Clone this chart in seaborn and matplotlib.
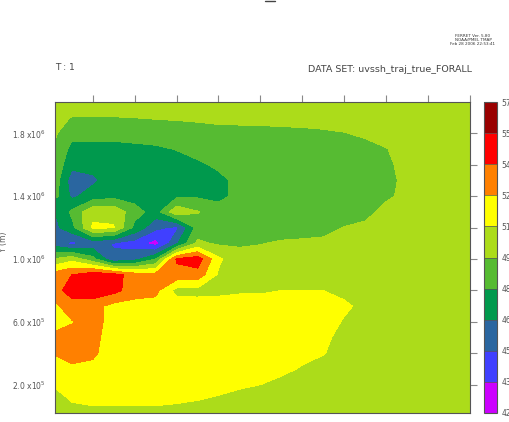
import numpy as np
import matplotlib
matplotlib.use("Agg")
import matplotlib.pyplot as plt
from matplotlib.lines import Line2D
import seaborn as sns

# grid of the field (units of 1e5 m)
x_1e5m = [0, 1, 2, 3, 4, 5, 6, 7, 8, 9, 10, 11, 12, 13, 14, 15, 16, 17, 18, 19, 20]
y_1e5m = [0, 1, 2, 3, 4, 5, 6, 7, 8, 9, 10, 11, 12, 13, 14, 15, 16, 17, 18, 19, 20]

# sea surface height, rows listed from north (y=20) down to south (y=0)
ssh_rows = [
    [50.3, 50.3, 50.3, 50.3, 50.3, 50.3, 50.3, 50.3, 50.3, 50.3, 50.3, 50.3, 50.3, 50.3, 50.3, 50.4, 50.4, 50.4, 50.4, 50.4, 50.4],
    [50.0, 49.45, 49.45, 49.45, 49.5, 49.6, 49.65, 49.7, 49.8, 49.85, 49.9, 49.95, 50.0, 50.05, 50.1, 50.2, 50.3, 50.4, 50.4, 50.4, 50.4],
    [50.0, 48.4, 48.4, 48.4, 48.5, 48.6, 48.8, 49.0, 49.1, 49.1, 49.1, 49.15, 49.2, 49.3, 49.45, 49.7, 50.0, 50.3, 50.4, 50.4, 50.4],
    [49.6, 47.6, 47.6, 47.6, 47.7, 47.8, 48.05, 48.4, 48.7, 48.8, 48.9, 48.9, 49.0, 49.0, 49.05, 49.1, 49.45, 50.0, 50.3, 50.4, 50.4],
    [49.6, 46.9, 47.0, 47.3, 47.3, 47.4, 47.5, 47.8, 48.2, 48.6, 48.8, 48.8, 48.8, 48.85, 48.9, 48.9, 49.2, 50.0, 50.3, 50.3, 50.3],
    [49.6, 45.7, 46.2, 47.3, 47.4, 47.4, 47.4, 47.5, 47.7, 48.3, 48.7, 48.7, 48.7, 48.75, 48.8, 48.9, 49.1, 49.85, 50.2, 50.3, 50.3],
    [49.0, 46.2, 47.2, 47.6, 47.4, 47.3, 47.7, 47.8, 47.7, 48.3, 48.6, 48.6, 48.6, 48.7, 48.8, 49.0, 49.3, 49.8, 50.1, 50.2, 50.2],
    [46.0, 48.3, 50.6, 50.6, 48.6, 47.3, 50.6, 49.6, 48.5, 48.7, 48.7, 48.6, 48.6, 48.7, 48.8, 49.1, 49.9, 50.1, 50.2, 50.2, 50.2],
    [45.8, 47.5, 51.2, 51.1, 47.6, 45.4, 44.6, 48.6, 48.8, 48.9, 48.8, 48.9, 48.9, 49.0, 49.55, 49.8, 50.1, 50.2, 50.2, 50.2, 50.2],
    [45.9, 44.6, 45.5, 44.9, 44.3, 42.8, 46.3, 49.8, 49.3, 49.4, 49.45, 49.65, 49.75, 49.85, 50.0, 50.1, 50.2, 50.2, 50.2, 50.2, 50.2],
    [49.5, 50.5, 48.5, 45.2, 46.0, 48.0, 54.2, 54.8, 51.3, 49.8, 50.0, 50.1, 50.2, 50.2, 50.2, 50.2, 50.2, 50.2, 50.2, 50.2, 50.2],
    [53.0, 54.0, 55.0, 54.6, 53.3, 53.0, 53.5, 53.4, 50.8, 50.3, 50.4, 50.5, 50.5, 50.5, 50.5, 50.4, 50.4, 50.3, 50.3, 50.3, 50.3],
    [53.0, 54.8, 55.1, 54.5, 53.2, 52.9, 50.5, 50.5, 50.6, 50.8, 50.8, 51.0, 51.0, 51.0, 50.7, 50.5, 50.4, 50.3, 50.3, 50.3, 50.3],
    [52.0, 53.2, 53.0, 52.0, 51.9, 51.9, 51.8, 51.7, 51.7, 51.7, 51.7, 51.7, 51.7, 51.6, 51.2, 50.7, 50.4, 50.3, 50.3, 50.3, 50.3],
    [52.0, 52.4, 53.0, 52.0, 51.8, 51.8, 51.8, 51.8, 51.8, 51.8, 51.7, 51.7, 51.7, 51.5, 50.9, 50.5, 50.3, 50.3, 50.3, 50.3, 50.3],
    [52.7, 53.1, 52.8, 52.0, 51.8, 51.8, 51.8, 51.8, 51.8, 51.8, 51.8, 51.8, 51.6, 51.2, 50.7, 50.4, 50.3, 50.3, 50.3, 50.3, 50.3],
    [52.5, 52.9, 52.7, 51.9, 51.7, 51.7, 51.7, 51.7, 51.7, 51.7, 51.7, 51.6, 51.3, 51.05, 50.6, 50.3, 50.3, 50.3, 50.3, 50.3, 50.3],
    [52.0, 52.3, 52.2, 51.8, 51.6, 51.6, 51.6, 51.6, 51.6, 51.6, 51.4, 51.25, 50.9, 50.6, 50.3, 50.3, 50.3, 50.3, 50.3, 50.3, 50.3],
    [51.0, 51.6, 51.6, 51.5, 51.5, 51.5, 51.5, 51.5, 51.4, 51.2, 51.0, 50.7, 50.4, 50.3, 50.3, 50.3, 50.3, 50.3, 50.3, 50.3, 50.3],
    [50.4, 51.05, 51.15, 51.15, 51.15, 51.15, 51.1, 51.0, 50.8, 50.5, 50.4, 50.3, 50.3, 50.3, 50.3, 50.3, 50.3, 50.3, 50.3, 50.3, 50.3],
    [50.3, 50.6, 50.7, 50.7, 50.7, 50.7, 50.6, 50.5, 50.4, 50.3, 50.3, 50.3, 50.3, 50.3, 50.3, 50.3, 50.3, 50.3, 50.3, 50.3, 50.3],
]

levels = [42.0, 43.5, 45.0, 46.5, 48.0, 49.5, 51.0, 52.5, 54.0, 55.5, 57.0]
band_colors = ['#cc00ff', '#4040ff', '#2a66a0', '#00994d', '#56bb32',
               '#acdc1a', '#ffff00', '#ff8000', '#ff0000', '#990000']

y_ticks = [2e5, 4e5, 6e5, 8e5, 1.0e6, 1.2e6, 1.4e6, 1.6e6, 1.8e6]
y_ticklabels = ['2.0 x10$^5$', '', '6.0 x10$^5$', '', '1.0 x10$^6$', '',
                '1.4 x10$^6$', '', '1.8 x10$^6$']
x_ticks = [2e5, 4e5, 6e5, 8e5, 1.0e6, 1.2e6, 1.4e6, 1.6e6, 1.8e6, 2.0e6]
x_ticklabels = ['2.0 x10$^5$', '', '6.0 x10$^5$', '', '1.0 x10$^6$', '',
                '1.4 x10$^6$', '', '1.8 x10$^6$', '']

sns.set_style("white")
plt.rcParams['font.family'] = ['DejaVu Sans']

X, Y = np.meshgrid(np.array(x_1e5m) * 1e5, np.array(y_1e5m) * 1e5)
Z = np.array(ssh_rows)[::-1]

fig = plt.figure(figsize=(5.09, 4.22), dpi=100)
ax = fig.add_axes([55 / 509, 9 / 422, 415 / 509, 311 / 422])
cs = ax.contourf(X, Y, Z, levels=levels, colors=band_colors)
ax.set_xlim(0.02e6, 2.0e6)
ax.set_ylim(0.02e6, 2.0e6)

ax.set_yticks(y_ticks)
ax.set_yticklabels(y_ticklabels)
ax.set_xticks(x_ticks)
ax.set_xticklabels(x_ticklabels)
ax.tick_params(direction='out', length=5, width=0.8, color='#888888',
               labelsize=5.5, labelcolor='#555555', pad=1.5,
               top=True, right=True)
for sp in ax.spines.values():
    sp.set_color('#555555')
    sp.set_linewidth(0.8)

fig.text(4 / 509, 1 - 242 / 422, 'Y (m)', rotation=90, fontsize=5.5,
         color='#555555', ha='center', va='center')

# colour key
cax = fig.add_axes([484 / 509, 9 / 422, 13 / 509, 311 / 422])
cb = fig.colorbar(cs, cax=cax, ticks=levels, drawedges=True)
cb.ax.set_yticklabels([f'{v:.1f}' for v in levels])
cb.ax.tick_params(length=0, labelsize=5.5, labelcolor='#555555', pad=3)
cb.outline.set_edgecolor('#555555')
cb.outline.set_linewidth(0.8)
cb.dividers.set_color('#555555')
cb.dividers.set_linewidth(0.5)

# header texts
fig.text(55 / 509, 1 - 67 / 422, 'T : 1', fontsize=6.5, color='#444444',
         ha='left', va='center')
fig.text(472 / 509, 1 - 69 / 422, 'DATA SET: uvssh_traj_true_FORALL',
         fontsize=6.8, color='#444444', ha='right', va='center')
fig.text(473 / 509, 1 - 36 / 422, 'FERRET Ver. 5.80', fontsize=3,
         color='#333333', ha='center', va='center')
fig.text(473 / 509, 1 - 40 / 422, 'NOAA/PMEL TMAP', fontsize=3,
         color='#333333', ha='center', va='center')
fig.text(473 / 509, 1 - 44 / 422, 'Feb 28 2006 22:53:41', fontsize=3,
         color='#333333', ha='center', va='center')
fig.add_artist(Line2D([265 / 509, 275 / 509], [1 - 0.5 / 422, 1 - 0.5 / 422],
                      color='#444444', linewidth=1.0))

fig.savefig('out.png', dpi=100)
